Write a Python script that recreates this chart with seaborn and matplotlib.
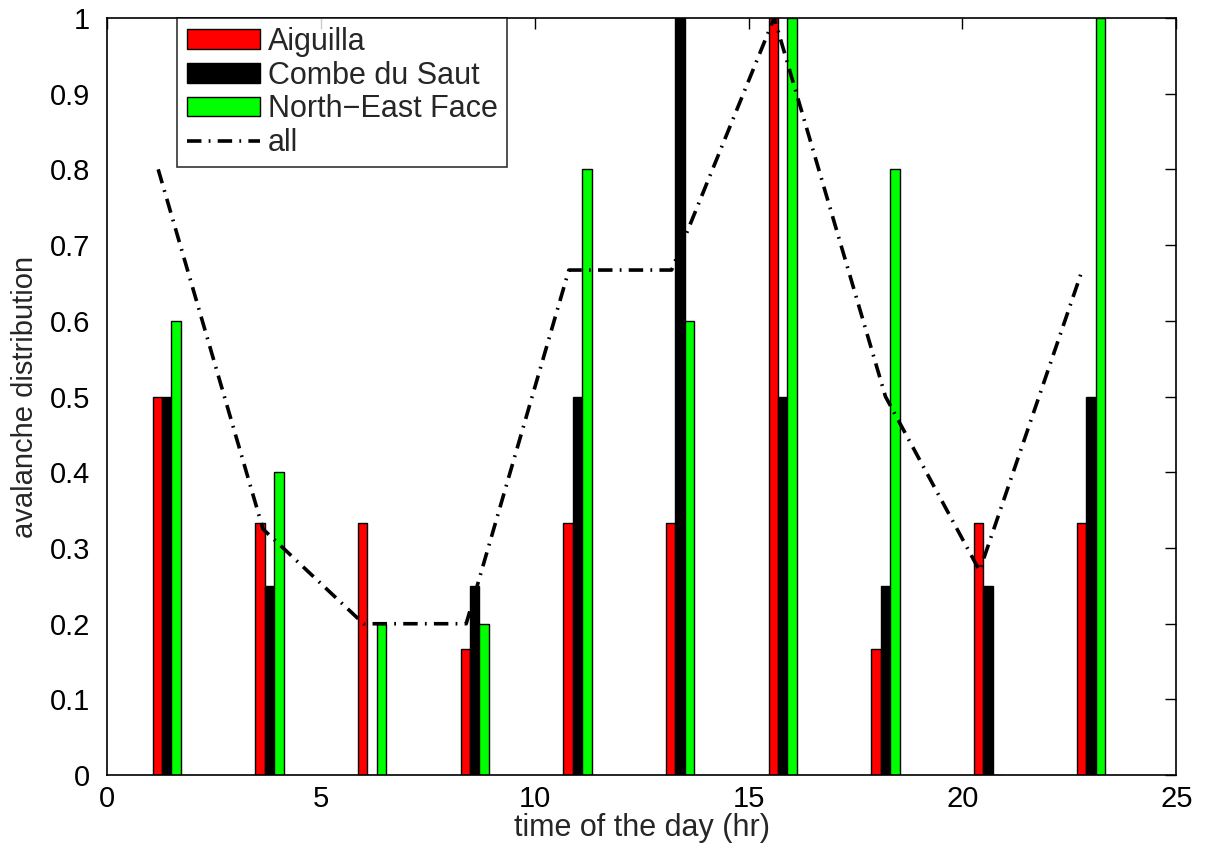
import matplotlib
matplotlib.use("Agg")
import matplotlib.pyplot as plt
import seaborn as sns
import pandas as pd
from matplotlib.patches import Patch
from matplotlib.lines import Line2D

# ---- data ----
hours = [1.4, 3.8, 6.2, 8.6, 11.0, 13.4, 15.8, 18.2, 20.6, 23.0]
aiguilla = [0.5, 0.333, 0.333, 0.1667, 0.333, 0.333, 1.0, 0.1667, 0.333, 0.333]
combe = [0.5, 0.25, 0.0, 0.25, 0.5, 1.0, 0.5, 0.25, 0.25, 0.5]
northeast = [0.6, 0.4, 0.2, 0.2, 0.8, 0.6, 1.0, 0.8, 0.0, 1.0]
site_names = ["Aiguilla", "Combe du Saut", "North\u2212East Face"]
site_colors = ["#ff0000", "#000000", "#00ff00"]

all_x = [1.2, 3.65, 6.0, 8.4, 10.8, 13.2, 15.6, 18.2, 20.4, 22.8]
all_y = [0.8, 0.325, 0.2, 0.2, 0.667, 0.667, 1.0, 0.5, 0.27, 0.667]

xticks = [0, 5, 10, 15, 20, 25]
yticks = [0, 0.1, 0.2, 0.3, 0.4, 0.5, 0.6, 0.7, 0.8, 0.9, 1.0]
ytick_labels = ["0", "0.1", "0.2", "0.3", "0.4", "0.5", "0.6", "0.7", "0.8", "0.9", "1"]

rows = []
for name, vals in zip(site_names, [aiguilla, combe, northeast]):
    for h, v in zip(hours, vals):
        rows.append({"hour": h, "value": v, "site": name})
df = pd.DataFrame(rows)

sns.set_style("white")
plt.rcParams["font.family"] = ["Liberation Sans", "DejaVu Sans"]

FS = 21

fig = plt.figure(figsize=(12.14, 8.5), dpi=100)
ax = fig.add_axes([0.088, 0.088, 0.881, 0.891])

sns.barplot(data=df, x="hour", y="value", hue="site", hue_order=site_names,
            palette=site_colors, native_scale=True, width=0.275, saturation=1,
            edgecolor="black", linewidth=1.0, errorbar=None, ax=ax, legend=False)

ls = (0, (4.0, 2.0, 0.5, 2.0))
sns.lineplot(x=all_x, y=all_y, color="black", linewidth=2.6, linestyle=ls,
             estimator=None, sort=False, ax=ax)

ax.set_xlim(0, 25)
ax.set_ylim(0, 1)
ax.set_xticks(xticks)
ax.set_xticklabels([str(t) for t in xticks])
ax.set_yticks(yticks)
ax.set_yticklabels(ytick_labels)
ax.tick_params(direction="in", length=8, width=1, labelsize=FS,
               top=True, right=True, colors="black")
ax.tick_params(axis="x", pad=7)
ax.tick_params(axis="y", pad=12)
for s in ax.spines.values():
    s.set_visible(True)
    s.set_color("black")
    s.set_linewidth(1.2)

ax.set_xlabel("time of the day (hr)", fontsize=FS + 1, labelpad=0)
ax.set_ylabel("avalanche distribution", fontsize=FS, labelpad=8)

handles = [Patch(facecolor=c, edgecolor="black", linewidth=1.0) for c in site_colors]
handles.append(Line2D([0], [0], color="black", linewidth=2.6, linestyle=ls))
labels = site_names + ["all"]
leg = ax.legend(handles, labels, loc="upper left", bbox_to_anchor=(0.066, 1.0),
                borderaxespad=0, fontsize=FS + 1, frameon=True, fancybox=False,
                edgecolor="black", handlelength=2.4, handleheight=0.62,
                handletextpad=0.25, labelspacing=0.12, borderpad=0.3)
leg.get_frame().set_linewidth(1.2)

fig.savefig("out.png", dpi=100, facecolor="white")
